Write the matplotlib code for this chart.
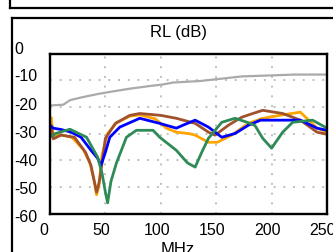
import numpy as np
import matplotlib
matplotlib.use("Agg")
import matplotlib.pyplot as plt
from matplotlib.lines import Line2D
from matplotlib.transforms import ScaledTranslation

plt.rcParams['font.family'] = ['Liberation Sans', 'DejaVu Sans']
plt.rcParams['axes.unicode_minus'] = False

# data (MHz, dB)
gray_f = [0, 12, 18, 28, 43, 57, 72, 90, 102, 111, 136, 173, 221, 250]
gray_db = [-19.5, -19.2, -17.5, -16.5, -15.2, -14.2, -13.2, -12.2, -11.6, -10.9, -10.3, -8.6, -7.9, -7.9]

orange_f = [0, 1, 3, 10, 20, 30, 36, 40, 42, 44, 47, 52, 60, 72, 81, 95, 105, 114, 125, 131,
            143, 151, 164, 179, 192, 210, 226, 241, 250]
orange_db = [-26, -24, -31, -30.5, -31.5, -36, -41, -48, -53, -50, -38, -30, -26, -23.5, -23,
             -24.5, -28, -29.5, -30, -30.6, -33.3, -33.3, -30.6, -26.2, -24.3, -23, -22, -28, -29.5]

brown_f = [0, 1, 3, 10, 22, 32, 37, 40, 42, 44, 45, 50, 59, 72, 81, 100, 114, 131, 143, 149,
           161, 173, 183, 192, 210, 226, 241, 250]
brown_db = [-28, -27, -32, -30.6, -31.4, -37, -42, -48, -52, -49, -46.8, -31.8, -26.2, -23.2,
            -22.5, -23.2, -24.3, -26.2, -29.5, -30.6, -26.9, -23.9, -22.5, -21.3, -22.5, -25,
            -29.5, -30.3]

blue_f = [0, 3, 10, 19, 28, 37, 43, 46, 50, 54, 63, 81, 99, 114, 120, 131, 143, 155, 167, 179,
          190, 226, 241, 250]
blue_db = [-27, -28, -28.5, -29.5, -31.4, -36.3, -39.3, -42, -37, -31.4, -27.6, -24.3, -26.2,
           -28, -26.9, -25, -27.6, -31.4, -30, -26.9, -25, -25, -28, -28.8]

green_f = [0, 5, 18, 33, 43, 47, 50, 52, 55, 60, 69, 78, 93, 99, 114, 124, 131, 137, 143, 155,
           167, 178, 185, 192, 200, 210, 219, 237, 250]
green_db = [-31.4, -30, -28.4, -31.4, -38.9, -45, -52, -56, -48, -41, -31.4, -28.8, -28.8,
            -31.4, -36.3, -41, -42.6, -37, -31.8, -25.8, -24.3, -25.8, -27, -31.8, -35.5, -29.5,
            -25.8, -25, -28]

xticks = [0, 50, 100, 150, 200, 250]
yticks = [0, -10, -20, -30, -40, -50, -60]

W, H = 333, 252
fig = plt.figure(figsize=(W / 100, H / 100), dpi=100)
ax = fig.add_axes([50 / W, 1 - 213.5 / H, 277 / W, 160 / H])

lw = 2.0
ax.plot(gray_f, gray_db, color='#aaaaaa', lw=1.6)
ax.plot(orange_f, orange_db, color='#ffa500', lw=lw)
ax.plot(brown_f, brown_db, color='#a0522d', lw=lw)
ax.plot(blue_f, blue_db, color='#0000ff', lw=lw)
ax.plot(green_f, green_db, color='#2e8b57', lw=lw)

ax.set_xlim(0, 250)
ax.set_ylim(-60, 0)
ax.set_xticks(xticks)
ax.set_yticks(yticks)
ax.grid(True, color='#c0c0c0', linestyle=(0, (1, 4)), linewidth=1.4)
for s in ax.spines.values():
    s.set_linewidth(1.7)
    s.set_color('black')

ax.tick_params(length=0, labelsize=11.5)
ax.tick_params(axis='y', pad=25.5)
ax.tick_params(axis='x', pad=7)
for lab in ax.get_yticklabels():
    lab.set_horizontalalignment('left')

# labels in the source sit a little off their grid lines
xoff = [-6, -4, -4, -4, -4, -4]
for lab, dx in zip(ax.get_xticklabels(), xoff):
    lab.set_transform(lab.get_transform() + ScaledTranslation(dx / 100, 0, fig.dpi_scale_trans))
yoff = [6, 5, 3, 1, 0, -1, -2]
for lab, dy in zip(ax.get_yticklabels(), yoff):
    lab.set_transform(lab.get_transform() + ScaledTranslation(0, dy / 100, fig.dpi_scale_trans))

fig.text(178 / W, 1 - 33 / H, 'RL (dB)', ha='center', va='center', fontsize=12)
fig.text(178 / W, 1 - 242 / H, 'MHz', ha='center', va='top', fontsize=12)

# frame lines of the surrounding panels
def fline(x0, y0, x1, y1):
    fig.add_artist(Line2D([x0 / W, x1 / W], [1 - y0 / H, 1 - y1 / H],
                          color='black', lw=1.6, transform=fig.transFigure))

fline(10, 0, 10, 7.5)
fline(10, 7.5, W, 7.5)
fline(11.5, 17.5, 11.5, H)
fline(11.5, 17.5, W, 17.5)

fig.savefig('out.png', dpi=100)
